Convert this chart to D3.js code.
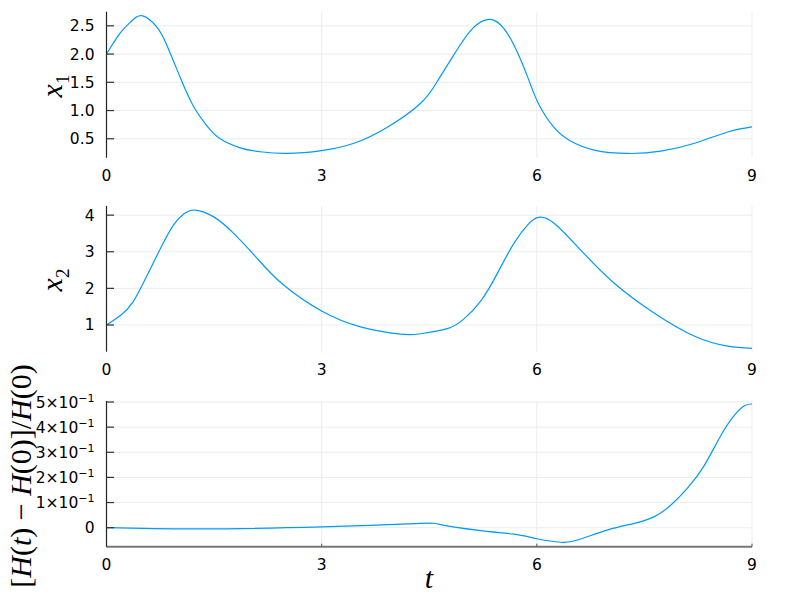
<!DOCTYPE html>
<html><head><meta charset="utf-8">
<script src="https://cdn.jsdelivr.net/npm/d3@7"></script>
<style>body{margin:0;background:#fff}svg{display:block}</style>
</head><body>
<svg id="c" width="800" height="600"></svg>
<script>
// ---- data ----
const xTicks = [0, 3, 6, 9];

const tX1 = [0,0.19,0.33,0.49,0.70,0.84,1.03,1.21,1.40,1.585,1.865,2.14,2.52,3.0,3.45,3.91,4.38,4.61,4.84,5.08,5.31,5.50,5.68,5.87,6.02,6.24,6.47,6.80,7.27,7.73,8.20,8.66,9.0];
const x1Vals = [2.00,2.37,2.56,2.68,2.48,2.16,1.58,1.08,0.73,0.50,0.34,0.27,0.24,0.29,0.42,0.70,1.13,1.51,1.98,2.42,2.61,2.51,2.16,1.60,1.13,0.70,0.46,0.30,0.24,0.28,0.42,0.62,0.71];
const x1Ticks = [0.5, 1.0, 1.5, 2.0, 2.5];
const x1TickLabels = ["0.5","1.0","1.5","2.0","2.5"];

const tX2 = [0,0.19,0.37,0.56,0.75,0.93,1.08,1.24,1.49,1.77,2.10,2.47,3.0,3.54,4.10,4.38,4.75,4.98,5.22,5.45,5.68,5.87,6.02,6.24,6.61,7.08,7.64,8.20,8.66,9.0];
const x2Vals = [1.00,1.25,1.63,2.33,3.08,3.72,4.04,4.14,3.96,3.51,2.82,2.09,1.38,0.95,0.75,0.76,0.90,1.16,1.66,2.41,3.23,3.73,3.94,3.78,3.05,2.14,1.32,0.69,0.42,0.36];
const x2Ticks = [1, 2, 3, 4];
const x2TickLabels = ["1","2","3","4"];

const tH = [0,1.26,3.0,4.38,4.64,5.22,5.68,6.02,6.33,6.57,6.99,7.36,7.64,7.87,8.10,8.34,8.57,8.76,8.90,9.0];
const hVals = [0,-0.005,0.003,0.017,0.013,-0.012,-0.026,-0.045,-0.058,-0.049,-0.009,0.017,0.044,0.090,0.157,0.250,0.369,0.449,0.486,0.492];
const hTicks = [0, 0.1, 0.2, 0.3, 0.4, 0.5];
const hTickMant = ["0","1","2","3","4","5"];

// ---- layout ----
const svg = d3.select("#c");
const X0 = 106.5, X1 = 752;
const x = d3.scaleLinear().domain([0, 9]).range([X0, X1]);
const lineColor = "#009AFA";
const gridColor = "#ececec";
const tickFont = 15.5;

const panels = [
  {t: tX1, v: x1Vals, dom: [0.165, 2.75], rng: [157.7, 11.7], ticks: x1Ticks, labels: x1TickLabels, sci: false, bottomSpine: false},
  {t: tX2, v: x2Vals, dom: [0.27, 4.25], rng: [351.7, 206], ticks: x2Ticks, labels: x2TickLabels, sci: false, bottomSpine: false},
  {t: tH, v: hVals, dom: [-0.0757, 0.504], rng: [546.7, 401], ticks: hTicks, labels: hTickMant, sci: true, bottomSpine: true}
];

panels.forEach(p => {
  const y = d3.scaleLinear().domain(p.dom).range(p.rng);
  const g = svg.append("g");
  const yb = p.rng[0], yt = p.rng[1];
  g.selectAll(".gy").data(p.ticks).join("line")
    .attr("x1", X0).attr("x2", X1).attr("y1", d => y(d)).attr("y2", d => y(d))
    .attr("stroke", gridColor).attr("stroke-width", 1);
  g.selectAll(".gx").data(xTicks).join("line")
    .attr("x1", d => x(d)).attr("x2", d => x(d)).attr("y1", yb).attr("y2", yt)
    .attr("stroke", gridColor).attr("stroke-width", 1);
  const line = d3.line().x((d, i) => x(p.t[i])).y(d => y(d)).curve(d3.curveNatural);
  g.append("path").datum(p.v).attr("d", line)
    .attr("fill", "none").attr("stroke", lineColor).attr("stroke-width", 1.2);
  if (p.bottomSpine) {
    g.append("line").attr("x1", X0).attr("x2", X1).attr("y1", yb).attr("y2", yb)
      .attr("stroke", "#777").attr("stroke-width", 2);
    g.selectAll(".xt").data(xTicks).join("line")
      .attr("x1", d => x(d)).attr("x2", d => x(d)).attr("y1", yb).attr("y2", yb - 3)
      .attr("stroke", "#555").attr("stroke-width", 1);
  }
  g.append("line").attr("x1", X0).attr("x2", X0).attr("y1", yb).attr("y2", yt)
    .attr("stroke", "#222").attr("stroke-width", 1.2);
  g.selectAll(".yt").data(p.ticks).join("line")
    .attr("x1", X0).attr("x2", X0 + 7.5).attr("y1", d => y(d)).attr("y2", d => y(d))
    .attr("stroke", "#333").attr("stroke-width", 1.2);
  p.ticks.forEach((d, i) => {
    const tx = g.append("text").attr("x", 94.5).attr("y", y(d) + 5.5)
      .attr("text-anchor", "end").attr("font-family", "DejaVu Sans").attr("font-size", tickFont).attr("fill", "#000");
    if (p.sci && d !== 0) {
      tx.append("tspan").text(p.labels[i] + "×10");
      tx.append("tspan").attr("dy", -6).attr("font-size", 11).text("−1");
    } else {
      tx.text(p.labels[i]);
    }
  });
  g.selectAll(".xl").data(xTicks).join("text")
    .attr("x", d => x(d)).attr("y", yb + 23)
    .attr("text-anchor", "middle").attr("font-family", "DejaVu Sans").attr("font-size", tickFont).attr("fill", "#000")
    .text(d => d);
});

// axis labels
const serif = "Liberation Serif";
function ylab(cx, cy, parts, size) {
  const t = svg.append("text").attr("transform", `translate(${cx},${cy}) rotate(-90)`)
    .attr("text-anchor", "middle").attr("font-family", serif).attr("font-size", size).attr("fill", "#000");
  parts.forEach(pt => {
    const s = t.append("tspan").text(pt.s);
    if (pt.i) s.attr("font-style", "italic");
    if (pt.dy) s.attr("dy", pt.dy);
    if (pt.fs) s.attr("font-size", pt.fs);
  });
  return t;
}
ylab(62, 86, [{s: "x", i: true}, {s: "1", dy: 7, fs: 19}], 30);
ylab(62, 280, [{s: "x", i: true}, {s: "2", dy: 7, fs: 19}], 30);
ylab(31, 476, [
  {s: "["}, {s: "H", i: true}, {s: "("}, {s: "t", i: true}, {s: ") − "},
  {s: "H", i: true}, {s: "(0)]/"}, {s: "H", i: true}, {s: "(0)"}
], 30);

svg.append("text").attr("x", 429).attr("y", 588).attr("text-anchor", "middle")
  .attr("font-family", serif).attr("font-style", "italic").attr("font-size", 30).attr("fill", "#000").text("t");
</script>
</body></html>
